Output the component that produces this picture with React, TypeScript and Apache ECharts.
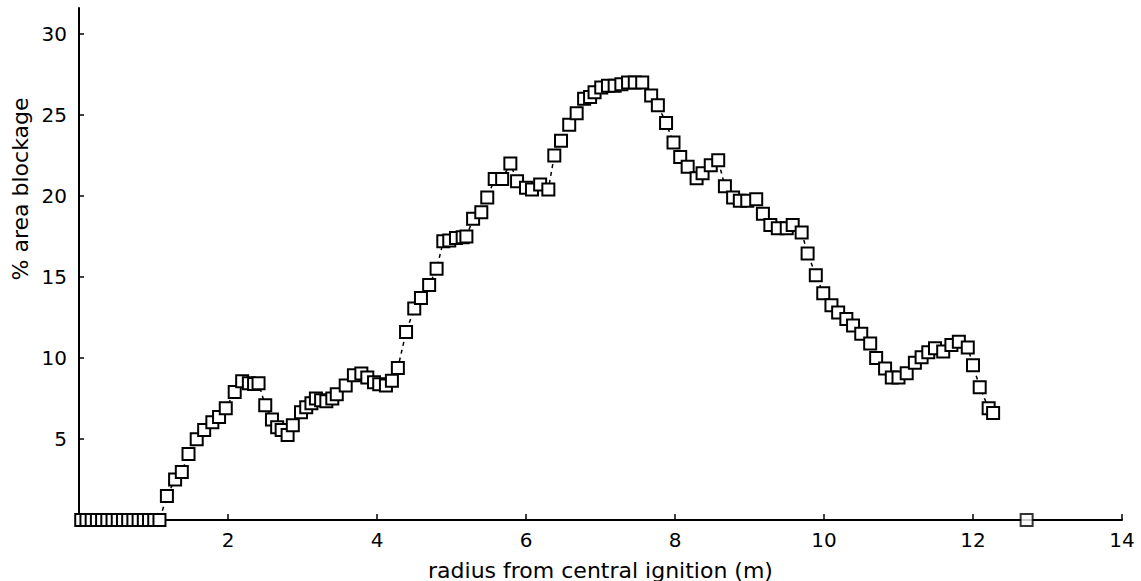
import React, { useEffect, useRef } from "react";
import * as echarts from "echarts";

const radius: number[] = [
  0.03, 0.1, 0.17, 0.24, 0.31, 0.38, 0.45, 0.52, 0.59, 0.66, 0.73, 0.8, 0.87, 0.94, 1.01, 1.08,
  1.18, 1.29, 1.38, 1.47, 1.58, 1.68, 1.79, 1.88, 1.97, 2.09, 2.19, 2.28, 2.35, 2.41,
  2.5, 2.59, 2.66, 2.72, 2.8, 2.87, 2.98, 3.05, 3.12, 3.18, 3.25, 3.32, 3.4, 3.46,
  3.58, 3.69, 3.79, 3.87, 3.96, 4.03, 4.12, 4.2, 4.28, 4.39, 4.5, 4.59, 4.7, 4.8,
  4.89, 4.97, 5.06, 5.15, 5.2, 5.29, 5.4, 5.48, 5.58, 5.68, 5.79, 5.88, 6.0, 6.08,
  6.19, 6.3, 6.38, 6.47, 6.58, 6.68, 6.78, 6.86, 6.92, 7.01, 7.1, 7.19, 7.28, 7.37,
  7.46, 7.56, 7.68, 7.77, 7.88, 7.98, 8.07, 8.17, 8.29, 8.37, 8.48, 8.58, 8.67, 8.78,
  8.87, 8.97, 9.09, 9.18, 9.28, 9.38, 9.5, 9.58, 9.7, 9.78, 9.89, 9.99, 10.1, 10.19,
  10.3, 10.39, 10.5, 10.62, 10.7, 10.82, 10.91, 11.0, 11.11, 11.22, 11.31, 11.4, 11.49,
  11.6, 11.71, 11.81, 11.93, 12.0, 12.09, 12.21, 12.27,
];

const blockage: number[] = [
  0, 0, 0, 0, 0, 0, 0, 0, 0, 0, 0, 0, 0, 0, 0, 0,
  1.48, 2.5, 2.96, 4.07, 4.99, 5.55, 6.04, 6.35, 6.9, 7.9, 8.56, 8.44, 8.4, 8.44,
  7.08, 6.2, 5.73, 5.55, 5.24, 5.85, 6.65, 6.96, 7.2, 7.5, 7.39, 7.33, 7.5, 7.76,
  8.3, 8.93, 9.04, 8.8, 8.5, 8.38, 8.3, 8.6, 9.38, 11.6, 13.05, 13.7, 14.5, 15.5,
  17.2, 17.25, 17.4, 17.45, 17.5, 18.6, 19.0, 19.9, 21.05, 21.05, 22.0, 20.9, 20.5, 20.4,
  20.7, 20.4, 22.5, 23.4, 24.4, 25.1, 26.0, 26.1, 26.4, 26.7, 26.8, 26.8, 26.9, 27.0,
  27.0, 27.0, 26.2, 25.6, 24.5, 23.3, 22.4, 21.8, 21.1, 21.4, 21.9, 22.2, 20.6, 19.9,
  19.7, 19.7, 19.8, 18.9, 18.2, 18.0, 18.0, 18.2, 17.75, 16.45, 15.1, 14.0, 13.25, 12.8,
  12.4, 12.0, 11.5, 10.9, 10.0, 9.35, 8.8, 8.8, 9.05, 9.7, 10.05, 10.35, 10.6,
  10.4, 10.8, 11.0, 10.65, 9.55, 8.2, 6.9, 6.6,
];

const strayRadius: number[] = [12.72];
const strayBlockage: number[] = [0];

const xTicks: number[] = [2, 4, 6, 8, 10, 12, 14];
const yTicks: number[] = [5, 10, 15, 20, 25, 30];

const xTitle = "radius from central ignition (m)";
const yTitle = "% area blockage";

const FONT = "DejaVu Sans";

export default function App() {
  const ref = useRef<HTMLDivElement>(null);
  useEffect(() => {
    if (!ref.current) return;
    const chart = echarts.init(ref.current, undefined, { renderer: "svg" });
    const main = radius.map((r, i) => [r, blockage[i]]);
    const stray = strayRadius.map((r, i) => [r, strayBlockage[i]]);
    const marker = {
      symbol: "rect",
      symbolSize: 12,
      itemStyle: { color: "#fff", borderColor: "#000", borderWidth: 2 },
    };
    chart.setOption({
      animation: false,
      backgroundColor: "#fff",
      grid: {
        left: 79,
        right: 19,
        top: 8,
        bottom: 61,
        containLabel: false,
        outerBoundsMode: "none",
      },
      xAxis: {
        type: "value",
        min: 0,
        max: 14,
        interval: 2,
        name: xTitle,
        nameLocation: "middle",
        nameGap: 39,
        nameTextStyle: { fontFamily: FONT, fontSize: 22, color: "#000" },
        axisLine: { show: true, lineStyle: { color: "#000", width: 2 } },
        axisTick: { show: true, inside: true, length: 6, lineStyle: { color: "#000", width: 1.5 } },
        axisLabel: {
          color: "#000",
          fontFamily: FONT,
          fontSize: 20,
          margin: 10,
          formatter: (v: number) => (xTicks.includes(v) ? String(v) : ""),
        },
        splitLine: { show: false },
      },
      yAxis: {
        type: "value",
        min: 0,
        max: 31.6,
        interval: 5,
        axisLine: { show: true, lineStyle: { color: "#000", width: 2 } },
        axisTick: { show: true, inside: true, length: 5, lineStyle: { color: "#000", width: 1.5 } },
        axisLabel: {
          color: "#000",
          fontFamily: FONT,
          fontSize: 20,
          margin: 12,
          showMaxLabel: false,
          formatter: (v: number) => (yTicks.includes(v) ? String(v) : ""),
        },
        splitLine: { show: false },
      },
      graphic: [
        {
          type: "text",
          x: 20,
          y: 189,
          rotation: Math.PI / 2,
          style: {
            text: yTitle,
            fontFamily: FONT,
            fontSize: 22,
            fill: "#000",
            align: "center",
            verticalAlign: "middle",
          },
        },
      ],
      series: [
        {
          type: "line",
          data: main,
          showAllSymbol: true,
          ...marker,
          lineStyle: { color: "#000", width: 1.5, type: [4, 4] },
          z: 2,
        },
        {
          type: "scatter",
          data: stray,
          ...marker,
          z: 3,
        },
      ],
    });
    return () => chart.dispose();
  }, []);
  return (
    <div
      ref={ref}
      style={{ position: "absolute", left: 0, top: 0, width: 1141, height: 581 }}
    />
  );
}
